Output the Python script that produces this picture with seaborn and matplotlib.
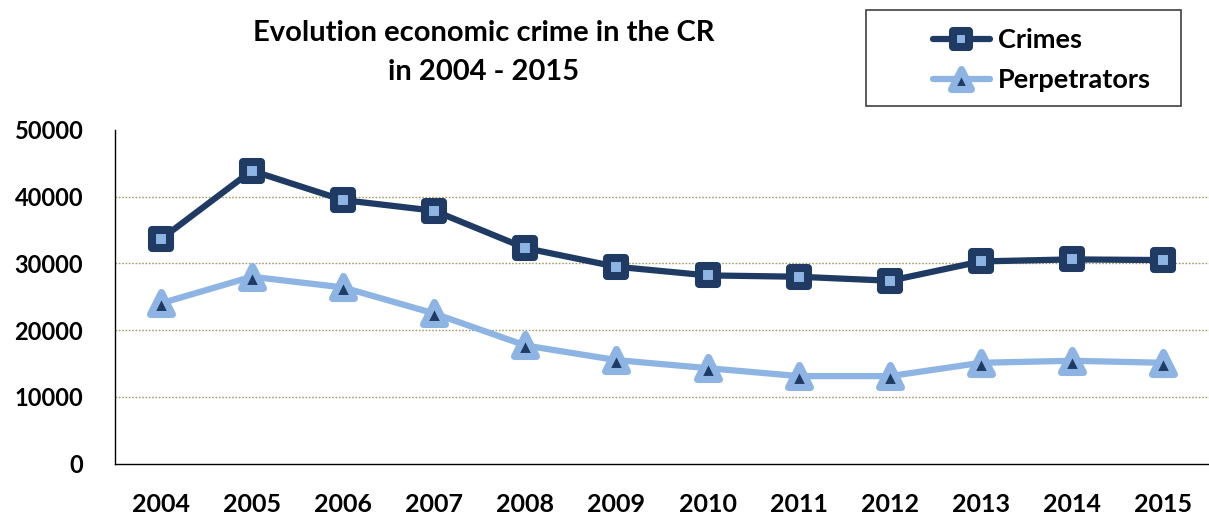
import matplotlib
matplotlib.use("Agg")
import matplotlib.pyplot as plt
from matplotlib.markers import MarkerStyle
from matplotlib.patches import Rectangle
import pandas as pd
import seaborn as sns

# Economic crime statistics, Czech Republic
years = ["2004", "2005", "2006", "2007", "2008", "2009",
         "2010", "2011", "2012", "2013", "2014", "2015"]
crimes = [33600, 43900, 39500, 37900, 32300, 29500,
          28200, 28000, 27400, 30300, 30600, 30500]
perpetrators = [24000, 28000, 26400, 22500, 17700, 15500,
                14300, 13100, 13100, 15100, 15400, 15100]
y_ticks = [0, 10000, 20000, 30000, 40000, 50000]

title_lines = ["Evolution economic crime in the CR", "in 2004 - 2015"]

DARK = "#1F3B63"
LIGHT = "#8DB4E2"
GRID = "#A39C68"
FONT = ["Lato", "DejaVu Sans"]

sns.set_style("white")
plt.rcParams["font.family"] = FONT
plt.rcParams["font.weight"] = "bold"

df = pd.DataFrame({"Year": years, "Crimes": crimes, "Perpetrators": perpetrators})

W, H = 1209, 514
fig = plt.figure(figsize=(W / 100, H / 100), dpi=100)
ax = fig.add_axes([115 / W, 1 - 463.5 / H, (W - 115) / W, (463.5 - 130) / H])

sns.lineplot(data=df, x="Year", y="Crimes", ax=ax, sort=False,
             color=DARK, lw=4.5, label="Crimes",
             marker=MarkerStyle("s", joinstyle="round"), markersize=13.5,
             markerfacecolor=LIGHT, mec=DARK, mew=5.8, clip_on=False, zorder=4)
sns.lineplot(data=df, x="Year", y="Perpetrators", ax=ax, sort=False,
             color=LIGHT, lw=4.5, label="Perpetrators",
             marker=MarkerStyle("^", joinstyle="round"), markersize=15.5,
             markerfacecolor=DARK, mec=LIGHT, mew=5.1, clip_on=False, zorder=3)

# axes and scales
ax.set_xlim(-0.5, len(years) - 0.5)
ax.set_ylim(0, 50000)
ax.set_yticks(y_ticks)
ax.set_yticklabels([str(v) for v in y_ticks])
ax.set_xlabel("")
ax.set_ylabel("")

for s in ("top", "right"):
    ax.spines[s].set_visible(False)
for s in ("left", "bottom"):
    ax.spines[s].set_color("black")
    ax.spines[s].set_linewidth(1.0)

ax.tick_params(axis="y", which="major", direction="out", length=5.8, width=1,
               color="black", pad=17, labelsize=17, labelcolor="black")
ax.set_xticks([i - 0.5 for i in range(len(years) + 1)], minor=True)
ax.tick_params(axis="x", which="minor", direction="out", length=7.2, width=1,
               color="black")
ax.tick_params(axis="x", which="major", length=0, pad=21, labelsize=18,
               labelcolor="black")

# dotted horizontal gridlines at the inner tick values
for v in y_ticks[1:-1]:
    ax.axhline(v, color=GRID, lw=1.0, ls=(0, (1.2, 1.2)), zorder=1)

# two-line centred title
for line, base_px in zip(title_lines, (41, 80)):
    fig.text(484 / W, 1 - base_px / H, line, ha="center", va="baseline",
             fontsize=21, fontweight="bold", color="black")

# legend with its own frame
leg = ax.legend(loc="upper left", bbox_to_anchor=(933 / W, 1 - 28 / H),
                bbox_transform=fig.transFigure, frameon=False,
                borderaxespad=0, borderpad=0, handlelength=2.1,
                handletextpad=0.3, labelspacing=0.6, markerscale=0.9,
                prop={"family": FONT, "weight": "bold", "size": 19.5})
for t in leg.get_texts():
    t.set_color("black")
fig.add_artist(Rectangle((866 / W, 1 - 106 / H), 315 / W, 96 / H,
                         transform=fig.transFigure, fill=False,
                         ec="#404040", lw=1.2))

fig.savefig("out.png", dpi=100)
